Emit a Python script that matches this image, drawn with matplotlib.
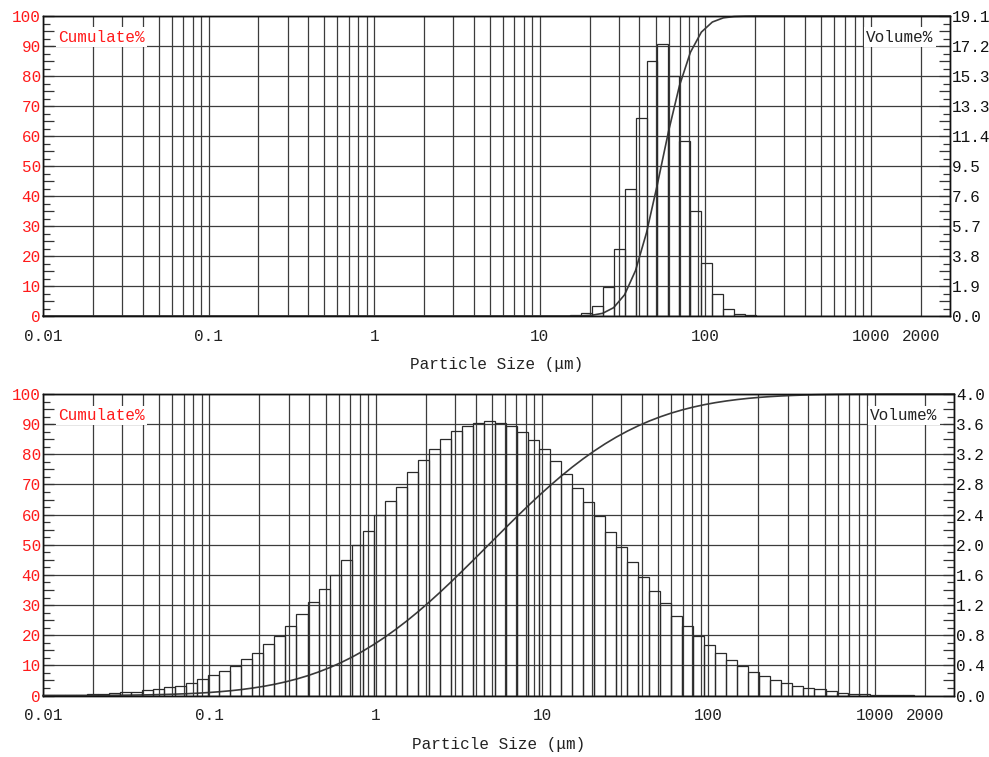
import numpy as np
import matplotlib
matplotlib.use("Agg")
import matplotlib.pyplot as plt
from matplotlib.ticker import FixedLocator, FixedFormatter, MultipleLocator, FuncFormatter, LogLocator, NullFormatter

plt.rcParams['font.family'] = ['Liberation Mono', 'DejaVu Sans Mono', 'DejaVu Sans']

# ---------------- data ----------------
# size classes: 80 geometric channels from 0.01 to 2000 um
size_min, size_max, n_classes = 0.01, 2000.0, 80

# top sample: volume % per class (classes 48..64 non-zero)
top_volume = ([0.0] * 48 +
              [0.06, 0.17, 0.66, 1.87, 4.29, 8.06, 12.58, 16.23, 17.34,
               15.26, 11.12, 6.71, 3.35, 1.38, 0.45, 0.13, 0.04] +
              [0.0] * 15)

# bottom sample: volume % per class (80 classes)
bottom_volume = [0.002, 0.004, 0.006, 0.008, 0.014, 0.024, 0.036, 0.042, 0.052, 0.068,
                 0.084, 0.108, 0.132, 0.172, 0.216, 0.268, 0.320, 0.392, 0.484, 0.564,
                 0.680, 0.796, 0.928, 1.080, 1.244, 1.416, 1.596, 1.792, 1.996, 2.188,
                 2.392, 2.584, 2.772, 2.960, 3.124, 3.272, 3.400, 3.508, 3.572, 3.616,
                 3.636, 3.616, 3.576, 3.492, 3.388, 3.264, 3.112, 2.944, 2.756, 2.568,
                 2.376, 2.168, 1.964, 1.772, 1.568, 1.392, 1.224, 1.060, 0.916, 0.788,
                 0.664, 0.560, 0.468, 0.392, 0.316, 0.260, 0.208, 0.164, 0.132, 0.104,
                 0.080, 0.056, 0.036, 0.024, 0.018, 0.012, 0.008, 0.004, 0.002, 0.0]

x_ticks = [0.01, 0.1, 1, 10, 100, 1000, 2000]
x_tick_labels = ["0.01", "0.1", "1", "10", "100", "1000", "2000"]
x_limits = (0.01, 3000)

cum_ticks = list(range(0, 101, 10))
cum_tick_labels = [str(v) for v in cum_ticks]

top_vol_max = 19.1
top_vol_labels = ["0.0", "1.9", "3.8", "5.7", "7.6", "9.5", "11.4", "13.3", "15.3", "17.2", "19.1"]
bottom_vol_max = 4.0
bottom_vol_labels = ["0.0", "0.4", "0.8", "1.2", "1.6", "2.0", "2.4", "2.8", "3.2", "3.6", "4.0"]

xlabel = "Particle Size (\u03bcm)"
left_title = "Cumulate%"
right_title = "Volume%"

# ---------------- style ----------------
FS = 11.5
RED = "#ff1a1a"
GRID = "#3c3c3c"
BAR = "#2a2a2a"

W, H = 989, 757
fig = plt.figure(figsize=(W / 100, H / 100), dpi=100)
ax_top = fig.add_axes([43 / W, (H - 316) / H, 907 / W, 300 / H])
ax_bot = fig.add_axes([43 / W, (H - 695.5) / H, 911 / W, 301.5 / H])

edges = np.geomspace(size_min, size_max, n_classes + 1)


def draw_panel(ax, volume, vmax, vlabels):
    volume = np.asarray(volume, dtype=float)
    ax.set_xscale('log')
    ax.set_xlim(*x_limits)
    ax.set_ylim(0, 100)

    # vertical grid at every 1..9 x 10^n
    ax.xaxis.set_major_locator(FixedLocator(x_ticks))
    ax.xaxis.set_major_formatter(FixedFormatter(x_tick_labels))
    ax.xaxis.set_minor_locator(LogLocator(base=10, subs=np.arange(1, 10), numticks=50))
    ax.xaxis.set_minor_formatter(NullFormatter())
    ax.grid(True, which='both', axis='x', color=GRID, linewidth=0.9)
    ax.tick_params(axis='x', which='both', length=0, pad=9, labelsize=FS, colors='#222222')

    # left axis: cumulate
    ax.yaxis.set_major_locator(MultipleLocator(5))
    ax.yaxis.set_major_formatter(FuncFormatter(lambda v, p: cum_tick_labels[int(round(v)) // 10] if int(round(v)) % 10 == 0 else ""))
    ax.yaxis.set_minor_locator(MultipleLocator(2.5))
    ax.tick_params(axis='y', which='major', direction='in', length=8, width=0.9, color='#333333',
                   labelcolor=RED, labelsize=FS, pad=1.5)
    ax.tick_params(axis='y', which='minor', direction='in', length=5, width=0.9, color='#333333')
    for v in cum_ticks:
        ax.axhline(v, color=GRID, linewidth=0.9, zorder=1)
    for s in ax.spines.values():
        s.set_color('#111111')
        s.set_linewidth(1.0)

    # right axis: volume
    axr = ax.twinx()
    axr.set_ylim(0, vmax)
    half = np.linspace(0, vmax, 21)
    axr.yaxis.set_major_locator(FixedLocator(half))
    full_labels = []
    for i in range(21):
        full_labels.append(vlabels[i // 2] if i % 2 == 0 else "")
    axr.yaxis.set_major_formatter(FixedFormatter(full_labels))
    axr.yaxis.set_minor_locator(FixedLocator(np.linspace(0, vmax, 41)))
    axr.tick_params(axis='y', which='major', direction='in', length=8, width=0.9, color='#333333',
                    labelcolor='#111111', labelsize=FS, pad=1.5)
    axr.tick_params(axis='y', which='minor', direction='in', length=5, width=0.9, color='#333333')
    for s in axr.spines.values():
        s.set_color('#111111')
        s.set_linewidth(1.0)

    # histogram bars (outline only)
    axr.bar(edges[:-1], volume, width=np.diff(edges), align='edge', fill=False,
            edgecolor=BAR, linewidth=0.9, zorder=3)

    # cumulative curve
    cum = np.concatenate([[0.0], np.cumsum(volume)])
    cum = cum / cum[-1] * 100.0
    cx = np.concatenate([[x_limits[0]], edges, [x_limits[1]]])
    cy = np.concatenate([[0.0], cum, [100.0]])
    ax.plot(cx, cy, color='#3a3a3a', linewidth=1.2, zorder=4, clip_on=False)

    ax.set_xlabel(xlabel, fontsize=FS, color='#222222', labelpad=10)

    ax.text(0.0165, 0.93, left_title, transform=ax.transAxes, color=RED, fontsize=FS,
            ha='left', va='center', zorder=6,
            bbox=dict(facecolor='white', edgecolor='none', pad=1.5))
    axr.text(0.982, 0.93, right_title, transform=ax.transAxes, color='#222222', fontsize=FS,
             ha='right', va='center', zorder=6,
             bbox=dict(facecolor='white', edgecolor='none', pad=1.5))
    return axr


draw_panel(ax_top, top_volume, top_vol_max, top_vol_labels)
draw_panel(ax_bot, bottom_volume, bottom_vol_max, bottom_vol_labels)

fig.savefig("out.png", dpi=100)
